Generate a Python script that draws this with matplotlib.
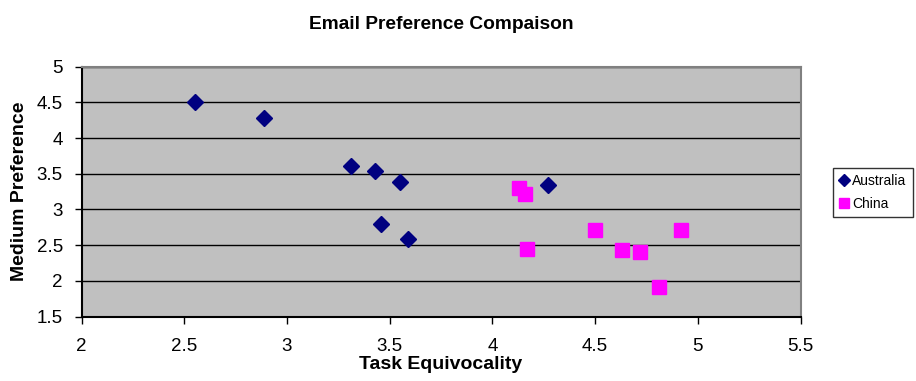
import matplotlib.pyplot as plt

plt.rcParams['font.family'] = ['Liberation Sans', 'DejaVu Sans']

# Data
aus_x = [2.55, 2.89, 3.31, 3.43, 3.55, 3.46, 3.59, 4.27]
aus_y = [4.50, 4.28, 3.61, 3.54, 3.38, 2.79, 2.58, 3.34]
china_x = [4.13, 4.16, 4.17, 4.50, 4.63, 4.72, 4.81, 4.92]
china_y = [3.30, 3.21, 2.44, 2.71, 2.43, 2.40, 1.92, 2.71]

xticks = [2, 2.5, 3, 3.5, 4, 4.5, 5, 5.5]
yticks = [1.5, 2, 2.5, 3, 3.5, 4, 4.5, 5]

fig = plt.figure(figsize=(9.16, 3.81), dpi=100)
ax = fig.add_axes([0.089, 0.169, 0.785, 0.656])
ax.set_facecolor('#C0C0C0')

ax.plot(aus_x, aus_y, linestyle='none', marker='D', markersize=8.5,
        color='#000080', label='Australia', zorder=3)
ax.plot(china_x, china_y, linestyle='none', marker='s', markersize=9.5,
        color='#FF00FF', label='China', zorder=3)

ax.set_xlim(2, 5.5)
ax.set_ylim(1.5, 5)
ax.set_xticks(xticks)
ax.set_yticks(yticks)
ax.set_xticklabels([f'{t:g}' for t in xticks])
ax.set_yticklabels([f'{t:g}' for t in yticks])
ax.tick_params(direction='out', length=5, width=1, labelsize=13.5, color='black')
ax.tick_params(axis='x', pad=10.5)
ax.tick_params(axis='y', pad=8.5)

# horizontal gridlines only
ax.grid(axis='y', color='black', linewidth=1)
ax.set_axisbelow(True)

ax.spines['left'].set_color('black')
ax.spines['bottom'].set_color('black')
ax.spines['top'].set_color('#808080')
ax.spines['right'].set_color('#808080')
for s in ax.spines.values():
    s.set_linewidth(1.5)

ax.set_title('Email Preference Compaison', fontsize=13.8, fontweight='bold', pad=27)
ax.set_xlabel('Task Equivocality', fontsize=14, fontweight='bold', labelpad=0.5)
ax.set_ylabel('Medium Preference', fontsize=14, fontweight='bold', labelpad=6)

leg = fig.legend(loc='upper left', bbox_to_anchor=(0.9094, 0.559), fontsize=10,
                 frameon=True, fancybox=False, handlelength=0.7, handletextpad=0.25,
                 borderpad=0.45, labelspacing=0.6, markerscale=0.7, borderaxespad=0)
leg.get_frame().set_edgecolor('black')
leg.get_frame().set_linewidth(1)

plt.savefig('out.png', dpi=100)
